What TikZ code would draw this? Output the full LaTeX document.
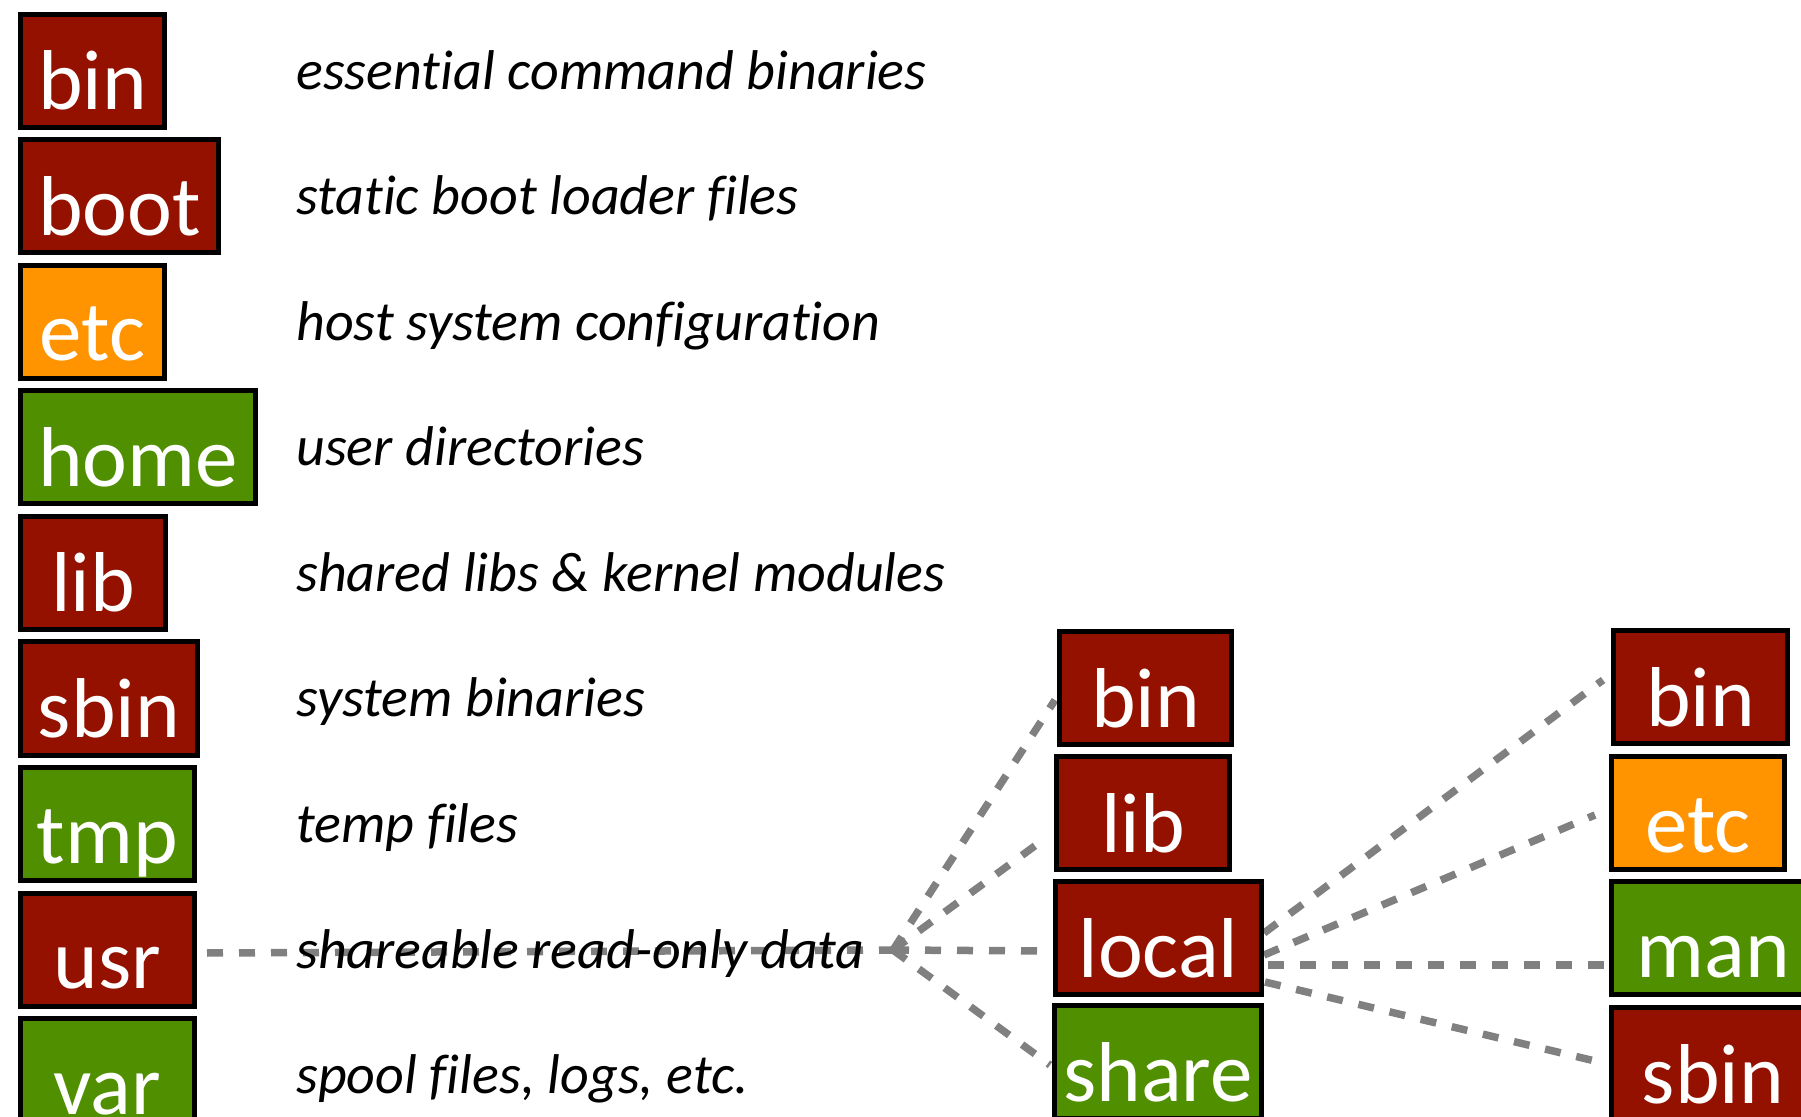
\documentclass[tikz,border=0pt]{standalone}
\usepackage{fontspec}
\newfontfamily\carlito[Ligatures=NoCommon]{Carlito}
\usetikzlibrary{calc,backgrounds}
\definecolor{dred}{HTML}{941100}
\definecolor{dorange}{HTML}{FF9300}
\definecolor{dgreen}{HTML}{4F8F00}
\definecolor{linkgray}{HTML}{808080}
\newcommand\boxfnt{\carlito\fontsize{42.5pt}{50pt}\selectfont}
\newcommand\descfnt{\carlito\itshape\fontsize{28pt}{34pt}\selectfont}
\tikzset{
  dirbox/.style={draw=black, line width=2.5pt, inner sep=0pt, minimum height=56.5pt,
    text height=39pt, text depth=0pt, text=white, font=\boxfnt},
  redbox/.style={dirbox, fill=dred},
  orangebox/.style={dirbox, fill=dorange},
  greenbox/.style={dirbox, fill=dgreen},
  desc/.style={anchor=base west, inner sep=0pt, font=\descfnt},
  link/.style={draw=linkgray, line width=3.75pt, dash pattern=on 8pt off 8pt}
}
\begin{document}
\begin{tikzpicture}[x=0.5pt,y=-0.5pt]
\clip (0,0) rectangle (1801,1117);
% left column
\node[redbox, minimum width=72pt] (bin) at (92.5,71) {bin};
\node[redbox, minimum width=99pt] (boot) at (119.5,196.5) {boot};
\node[orangebox, minimum width=72pt] (etc) at (92.5,322) {etc};
\node[greenbox, minimum width=117.5pt] (home) at (138,447.5) {home};
\node[redbox, minimum width=72.5pt] (lib) at (93,573) {lib};
\node[redbox, minimum width=88.5pt] (sbin) at (109,698.5) {sbin};
\node[greenbox, minimum width=87pt] (tmp) at (107.5,824) {tmp};
\draw[black, line width=2.5pt] ($(tmp.south west)+(2.5,-2.5)$) -- ($(tmp.south east)+(-2.5,-2.5)$);
\node[redbox, minimum width=87pt] (usr) at (107.5,949.5) {usr};
\node[greenbox, minimum width=87pt] (var) at (107.5,1075) {var};
% descriptions
\node[desc] (dbin) at (296,89.5) {essential command binaries};
\node[desc] (dboot) at (296,215) {static boot loader files};
\node[desc] (detc) at (296,340.5) {host system configuration};
\node[desc] (dhome) at (296,466) {user directories};
\node[desc] (dlib) at (296,591.5) {shared libs \& kernel modules};
\node[desc] (dsbin) at (296,717) {system binaries};
\node[desc] (dtmp) at (296,842.5) {temp files};
\node[desc] (dusr) at (296,968) {shareable read-only data};
\node[desc] (dvar) at (296,1093.5) {spool files, logs, etc.};
% middle column
\node[redbox, minimum width=86pt] (bin2) at (1145.5,688) {bin};
\node[redbox, minimum width=86.5pt] (lib2) at (1143,813) {lib};
\node[redbox, minimum width=103pt] (local) at (1158.5,938) {local};
\node[greenbox, minimum width=103.5pt] (share) at (1158,1062) {share};
% right column
\node[redbox, minimum width=87pt] (bin3) at (1700.5,687) {bin};
\node[orangebox, minimum width=86.5pt] (etc3) at (1698,813) {etc};
\node[greenbox, minimum width=101.5pt] (man) at (1713,938) {man};
\node[redbox, minimum width=101.5pt] (sbin3) at (1713,1064) {sbin};
% connectors
\coordinate (fan) at (893,950);
\begin{scope}[on background layer]
\fill[white] (0,0) rectangle (1801,1117);
\draw[link] ($(usr.east)+(10,3.5)$) -- (fan);
\draw[link] (fan) -- ($(bin2.west)+(-2,12)$);
\draw[link] (fan) -- ($(lib2.west)+(-7,24)$);
\draw[link] (fan) -- ($(local.west)+(-8,13)$);
\draw[link] (fan) -- ($(share.west)+(-2,3)$);
\draw[link] ($(local.east)+(0,-5)$) -- ($(bin3.west)+(-8,-7)$);
\draw[link] ($(local.east)+(0,17)$) -- ($(etc3.west)+(-14,2)$);
\draw[link] ($(local.east)+(4,27)$) -- ($(man.west)+(-2,27)$);
\draw[link] ($(local.east)+(1,44)$) -- ($(sbin3.west)+(-14,-3)$);
\end{scope}
\end{tikzpicture}
\end{document}
